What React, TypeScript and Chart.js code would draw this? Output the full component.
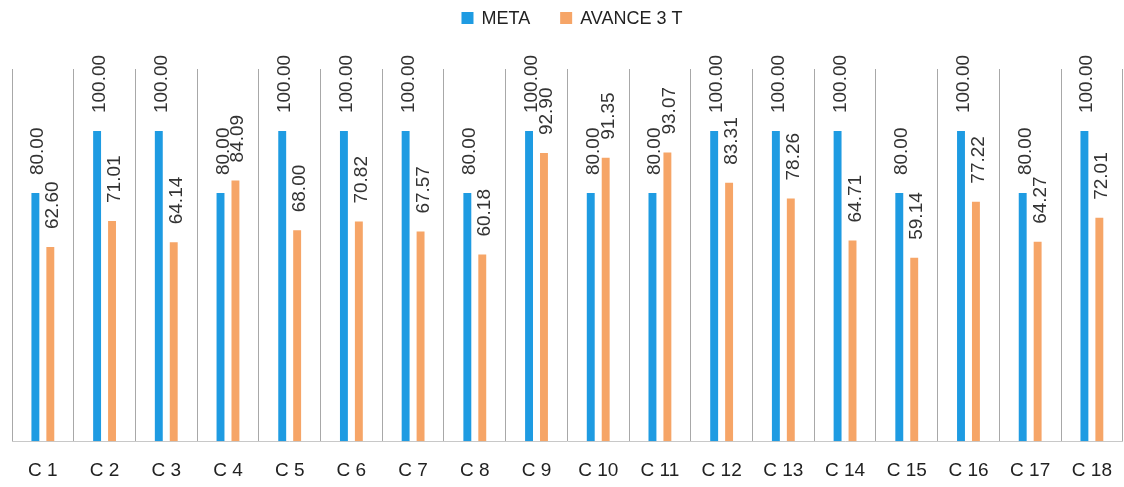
import React, { useEffect, useRef } from 'react';
import { Chart, registerables } from 'chart.js';

Chart.register(...registerables);

const categories = ['C 1', 'C 2', 'C 3', 'C 4', 'C 5', 'C 6', 'C 7', 'C 8', 'C 9', 'C 10', 'C 11', 'C 12', 'C 13', 'C 14', 'C 15', 'C 16', 'C 17', 'C 18'];
const metaValues = [80, 100, 100, 80, 100, 100, 100, 80, 100, 80, 80, 100, 100, 100, 80, 100, 80, 100];
const avanceValues = [62.6, 71.01, 64.14, 84.09, 68.0, 70.82, 67.57, 60.18, 92.9, 91.35, 93.07, 83.31, 78.26, 64.71, 59.14, 77.22, 64.27, 72.01];
const seriesNames = ['META', 'AVANCE 3 T'];
const seriesColors = ['#1E9BE2', '#F6A567'];

const FONT = '"Liberation Sans", Arial, sans-serif';

export default function App() {
  const ref = useRef<HTMLCanvasElement>(null);

  useEffect(() => {
    if (!ref.current) return;

    const valueLabels = {
      id: 'valueLabels',
      afterDatasetsDraw(chart: any) {
        const ctx = chart.ctx;
        ctx.save();
        ctx.font = `19px ${FONT}`;
        ctx.fillStyle = '#333333';
        ctx.textAlign = 'left';
        ctx.textBaseline = 'alphabetic';
        chart.data.datasets.forEach((ds: any, di: number) => {
          const meta = chart.getDatasetMeta(di);
          meta.data.forEach((el: any, i: number) => {
            const v = ds.data[i] as number;
            ctx.save();
            ctx.translate(el.x + 1, el.y - 18);
            ctx.rotate(-Math.PI / 2);
            ctx.fillText(v.toFixed(2), 0, 7);
            ctx.restore();
          });
        });
        ctx.restore();
      },
    };

    const customLegend = {
      id: 'customLegend',
      afterDraw(chart: any) {
        const ctx = chart.ctx;
        ctx.save();
        ctx.font = `18px ${FONT}`;
        ctx.textBaseline = 'middle';
        ctx.textAlign = 'left';
        const box = 12;
        const gapText = 8;
        const gapItems = 30;
        const widths = seriesNames.map((n) => ctx.measureText(n).width);
        const total = widths.reduce((a, w) => a + box + gapText + w, 0) + gapItems * (seriesNames.length - 1);
        let x = 572 - total / 2;
        const cy = 18;
        seriesNames.forEach((n, i) => {
          ctx.fillStyle = seriesColors[i];
          ctx.fillRect(x, cy - box / 2, box, box);
          x += box + gapText;
          ctx.fillStyle = '#222222';
          ctx.fillText(n, x, cy + 1);
          x += widths[i] + gapItems;
        });
        ctx.restore();
      },
    };

    const chart = new Chart(ref.current, {
      type: 'bar',
      data: {
        labels: categories,
        datasets: [
          { label: seriesNames[0], data: metaValues, backgroundColor: seriesColors[0], categoryPercentage: 0.484, barPercentage: 0.53 },
          { label: seriesNames[1], data: avanceValues, backgroundColor: seriesColors[1], categoryPercentage: 0.484, barPercentage: 0.53 },
        ],
      },
      options: {
        responsive: false,
        animation: false,
        layout: { padding: { left: 12, right: 2, top: 69, bottom: 5 } },
        font: { family: FONT },
        plugins: {
          legend: { display: false },
          tooltip: { enabled: false },
        },
        scales: {
          x: {
            offset: true,
            grid: { display: true, offset: true, color: '#A8A8A8', lineWidth: 1, drawTicks: false },
            border: { display: true, color: '#C8C8C8' },
            ticks: { font: { size: 19, family: FONT }, color: '#222222', padding: 18, maxRotation: 0, autoSkip: false },
          },
          y: {
            display: false,
            min: 0,
            max: 120,
          },
        },
      } as any,
      plugins: [valueLabels, customLegend],
    });

    return () => chart.destroy();
  }, []);

  return (
    <div style={{ position: 'fixed', left: 0, top: 0, width: 1124, height: 487, overflow: 'hidden', background: '#ffffff' }}>
      <canvas ref={ref} width={1130} height={505} style={{ display: 'block' }} />
    </div>
  );
}
